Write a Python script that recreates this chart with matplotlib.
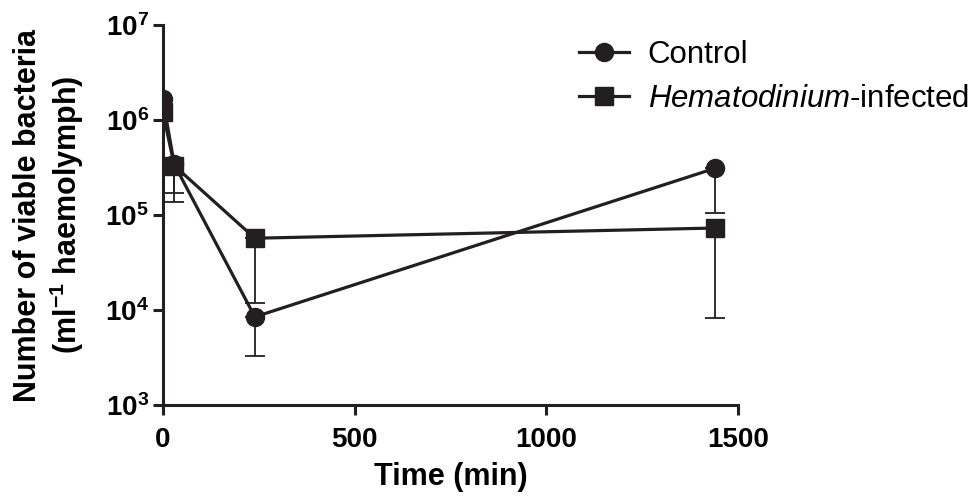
import numpy as np
import matplotlib
matplotlib.use("Agg")
import matplotlib.pyplot as plt

plt.rcParams['font.family'] = ['Liberation Sans', 'DejaVu Sans']
plt.rcParams['mathtext.fontset'] = 'custom'
plt.rcParams['mathtext.rm'] = 'Liberation Sans:bold'
plt.rcParams['mathtext.bf'] = 'Liberation Sans:bold'
plt.rcParams['mathtext.it'] = 'Liberation Sans:italic'

# time points (min)
time = [0, 30, 240, 1440]

# Control
control = [1.65e6, 3.4e5, 8.5e3, 3.1e5]
control_low = [1.65e6, 1.7e5, 3.3e3, 1.05e5]

# Hematodinium-infected
infected = [1.2e6, 3.3e5, 5.7e4, 7.3e4]
infected_low = [1.2e6, 1.37e5, 1.19e4, 8.2e3]

yticks = [1e3, 1e4, 1e5, 1e6, 1e7]
ytick_labels = [r'$\mathrm{10^{3}}$', r'$\mathrm{10^{4}}$', r'$\mathrm{10^{5}}$',
                r'$\mathrm{10^{6}}$', r'$\mathrm{10^{7}}$']
xticks = [0, 500, 1000, 1500]

fig = plt.figure(figsize=(9.75, 4.96), dpi=100)
ax = fig.add_axes([0.167, 0.183, 0.590, 0.767])

col = '#231f20'
for y, low, mk, lab in [(control, control_low, 'o', 'Control'),
                        (infected, infected_low, 's', r'$\mathit{Hematodinium}$-infected')]:
    y = np.array(y)
    err = y - np.array(low)
    ax.errorbar(time, y, yerr=[err, np.zeros_like(err)], fmt='none', ecolor=col,
                elinewidth=1.3, capsize=7, capthick=1.3, zorder=2)
    ax.plot(time, y, marker=mk, color=col, lw=2.3, ms=13, label=lab, zorder=3)

ax.set_yscale('log')
ax.set_ylim(1e3, 1e7)
ax.set_xlim(0, 1500)
ax.set_yticks(yticks)
ax.set_yticklabels(ytick_labels)
ax.minorticks_off()
ax.set_xticks(xticks)
ax.tick_params(axis='both', labelsize=20, width=2.2, length=7, color=col)
ax.tick_params(axis='x', pad=9)
ax.tick_params(axis='y', pad=3)
for t in ax.get_xticklabels():
    t.set_fontweight('bold')

for s in ['top', 'right']:
    ax.spines[s].set_visible(False)
for s in ['left', 'bottom']:
    ax.spines[s].set_linewidth(2.2)
    ax.spines[s].set_color(col)

ax.set_xlabel('Time (min)', fontsize=22, fontweight='bold', labelpad=6)
ax.set_ylabel('Number of viable bacteria\n(ml$^{-1}$ haemolymph)', fontsize=22,
              fontweight='bold', labelpad=14, linespacing=1.15)

fig.legend(loc='upper left', bbox_to_anchor=(0.565, 0.977), frameon=False,
           fontsize=22.5, handlelength=1.6, handletextpad=0.6, labelspacing=0.45)

fig.savefig('out.png', dpi=100)
